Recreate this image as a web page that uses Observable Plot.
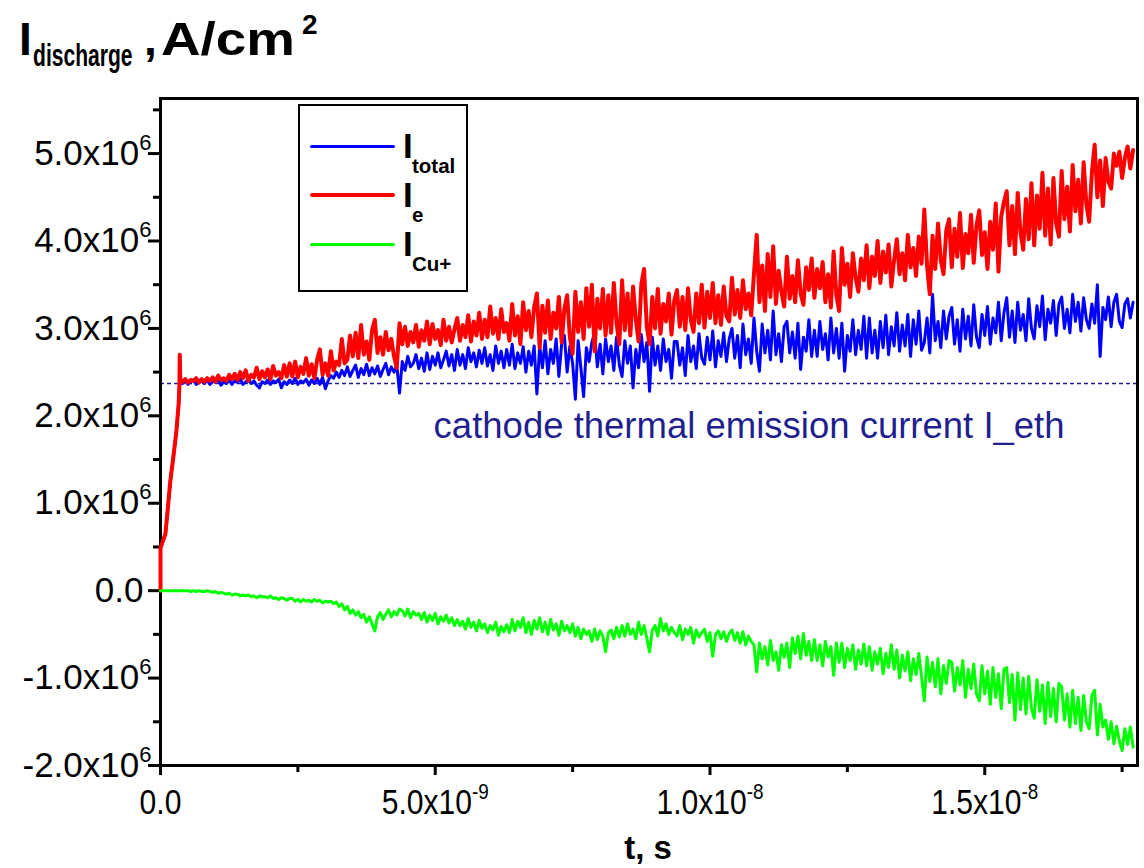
<!DOCTYPE html>
<html><head><meta charset="utf-8">
<script src="https://cdn.jsdelivr.net/npm/d3@7"></script>
<script src="https://cdn.jsdelivr.net/npm/@observablehq/plot@0.6"></script>
<style>
body{margin:0;background:#fff;}
#wrap{position:relative;width:1144px;height:868px;overflow:hidden;font-family:"Liberation Sans",Arial,sans-serif;}
.a{position:absolute;line-height:1;white-space:nowrap;font-weight:bold;color:#000;}
.sw{position:absolute;}
#legend{position:absolute;left:298px;top:104px;width:170px;height:188px;box-sizing:border-box;border:2px solid #000;background:#fff;}
</style></head><body><div id="wrap"></div>
<script>
// time in ns (x1e-9 s), currents in units of 1e6 A/cm^2
const tEarly = [0, 0, 0.09, 0.18, 0.24, 0.29, 0.33, 0.345, 0.35, 0.36];
const eEarly = [0, 0.49, 0.65, 1.26, 1.56, 1.83, 2.13, 2.36, 2.70, 2.38];
const totalEarly = [0, 0.49, 0.65, 1.26, 1.56, 1.83, 2.13, 2.36, 2.70, 2.38];
const cuEarly = [0, 0, 0, 0, 0, 0, 0, 0, 0, 0];

const tGrid = [
 0.40,0.45,0.50,0.55,0.60,0.65,0.70,0.75,0.80,0.85,
 0.90,0.95,1.00,1.05,1.10,1.15,1.20,1.25,1.30,1.35,
 1.40,1.45,1.50,1.55,1.60,1.65,1.70,1.75,1.80,1.85,
 1.90,1.95,2.00,2.05,2.10,2.15,2.20,2.25,2.30,2.35,
 2.40,2.45,2.50,2.55,2.60,2.65,2.70,2.75,2.80,2.85,
 2.90,2.95,3.00,3.05,3.10,3.15,3.20,3.25,3.30,3.35,
 3.40,3.45,3.50,3.55,3.60,3.65,3.70,3.75,3.80,3.85,
 3.90,3.95,4.00,4.05,4.10,4.15,4.20,4.25,4.30,4.35,
 4.40,4.45,4.50,4.55,4.60,4.65,4.70,4.75,4.80,4.85,
 4.90,4.95,5.00,5.05,5.10,5.15,5.20,5.25,5.30,5.35,
 5.40,5.45,5.50,5.55,5.60,5.65,5.70,5.75,5.80,5.85,
 5.90,5.95,6.00,6.05,6.10,6.15,6.20,6.25,6.30,6.35,
 6.40,6.45,6.50,6.55,6.60,6.65,6.70,6.75,6.80,6.85,
 6.90,6.95,7.00,7.05,7.10,7.15,7.20,7.25,7.30,7.35,
 7.40,7.45,7.50,7.55,7.60,7.65,7.70,7.75,7.80,7.85,
 7.90,7.95,8.00,8.05,8.10,8.15,8.20,8.25,8.30,8.35,
 8.40,8.45,8.50,8.55,8.60,8.65,8.70,8.75,8.80,8.85,
 8.90,8.95,9.00,9.05,9.10,9.15,9.20,9.25,9.30,9.35,
 9.40,9.45,9.50,9.55,9.60,9.65,9.70,9.75,9.80,9.85,
 9.90,9.95,10.00,10.05,10.10,10.15,10.20,10.25,10.30,10.35,
 10.40,10.45,10.50,10.55,10.60,10.65,10.70,10.75,10.80,10.85,
 10.90,10.95,11.00,11.05,11.10,11.15,11.20,11.25,11.30,11.35,
 11.40,11.45,11.50,11.55,11.60,11.65,11.70,11.75,11.80,11.85,
 11.90,11.95,12.00,12.05,12.10,12.15,12.20,12.25,12.30,12.35,
 12.40,12.45,12.50,12.55,12.60,12.65,12.70,12.75,12.80,12.85,
 12.90,12.95,13.00,13.05,13.10,13.15,13.20,13.25,13.30,13.35,
 13.40,13.45,13.50,13.55,13.60,13.65,13.70,13.75,13.80,13.85,
 13.90,13.95,14.00,14.05,14.10,14.15,14.20,14.25,14.30,14.35,
 14.40,14.45,14.50,14.55,14.60,14.65,14.70,14.75,14.80,14.85,
 14.90,14.95,15.00,15.05,15.10,15.15,15.20,15.25,15.30,15.35,
 15.40,15.45,15.50,15.55,15.60,15.65,15.70,15.75,15.80,15.85,
 15.90,15.95,16.00,16.05,16.10,16.15,16.20,16.25,16.30,16.35,
 16.40,16.45,16.50,16.55,16.60,16.65,16.70,16.75,16.80,16.85,
 16.90,16.95,17.00,17.05,17.10,17.15,17.20,17.25,17.30,17.35,
 17.40,17.45,17.50,17.55,17.60,17.65,17.70];

const iE = [
 2.39,2.42,2.38,2.41,2.40,2.43,2.38,2.42,2.39,2.43,
 2.40,2.44,2.39,2.46,2.41,2.43,2.40,2.47,2.42,2.48,
 2.41,2.50,2.43,2.52,2.40,2.47,2.44,2.55,2.42,2.51,
 2.44,2.53,2.42,2.57,2.46,2.50,2.43,2.58,2.45,2.60,
 2.45,2.62,2.44,2.56,2.48,2.66,2.46,2.59,2.43,2.64,
 2.76,2.47,2.60,2.46,2.74,2.52,2.62,2.58,2.88,2.60,
 2.64,2.92,2.68,2.95,2.66,3.04,2.70,2.85,2.64,2.98,
 3.10,2.72,2.90,2.70,2.96,2.75,2.88,2.68,2.55,3.06,
 2.82,3.02,2.80,2.96,2.84,3.04,2.79,2.98,2.86,3.08,
 2.82,3.05,2.88,2.98,2.81,3.10,2.86,3.02,2.84,2.99,
 3.12,2.86,3.04,2.90,3.15,2.85,3.08,2.92,3.18,2.88,
 3.10,2.90,3.25,2.94,3.12,2.88,3.22,2.96,3.06,2.86,
 3.28,2.92,3.14,2.82,3.30,2.98,3.20,2.90,3.24,3.40,
 2.78,3.26,2.95,3.32,2.88,3.18,3.00,3.36,2.84,3.22,
 3.38,2.90,2.71,3.42,2.96,3.30,2.88,3.46,3.02,3.50,
 2.74,3.34,3.00,3.45,2.92,3.38,2.95,3.52,3.06,2.82,
 3.55,2.98,3.40,2.92,3.48,3.10,2.85,3.50,3.68,3.02,
 2.82,3.36,3.00,3.45,2.94,3.28,3.08,3.40,2.93,3.32,
 3.44,3.02,3.36,2.98,3.46,3.10,2.96,3.40,3.06,3.50,
 3.01,3.42,3.12,3.52,3.06,3.38,3.04,3.48,3.14,3.08,
 3.58,3.16,3.44,3.12,3.55,3.22,3.40,3.15,3.62,4.07,
 3.30,3.72,3.20,3.85,3.36,3.94,3.28,3.66,3.42,3.25,
 3.82,3.34,3.60,3.30,3.78,3.40,3.27,3.70,3.44,3.80,
 3.35,3.68,3.46,3.76,3.30,3.62,3.24,3.88,3.38,3.20,
 3.92,3.50,3.74,3.36,3.86,3.58,3.42,3.80,3.55,3.95,
 3.46,3.82,3.60,4.00,3.52,3.88,3.64,3.96,3.48,3.78,
 4.02,3.62,3.86,3.55,4.07,3.70,3.92,3.60,4.05,3.74,
 4.36,3.72,3.39,4.06,3.68,4.20,3.78,3.62,4.12,4.25,
 3.70,4.14,3.82,4.32,3.69,4.08,3.86,4.30,3.75,4.18,
 4.35,3.84,4.10,3.68,4.22,3.90,4.43,3.65,4.28,4.45,
 4.57,3.95,4.40,3.85,4.55,4.10,3.90,4.48,4.02,4.66,
 3.95,4.52,4.14,4.78,4.06,4.60,3.96,4.72,4.20,4.05,
 4.80,4.25,4.62,4.11,4.87,4.34,4.70,4.20,4.90,4.42,
 4.22,4.78,5.10,4.50,4.92,4.40,4.95,4.68,4.60,5.00,
 4.86,5.02,4.72,4.95,5.08,4.83,5.04];

const iTotal = [
 2.37,2.40,2.36,2.39,2.41,2.36,2.38,2.40,2.37,2.41,
 2.36,2.40,2.38,2.42,2.35,2.39,2.37,2.41,2.36,2.40,
 2.38,2.42,2.36,2.39,2.41,2.37,2.40,2.35,2.32,2.39,
 2.37,2.41,2.36,2.40,2.38,2.42,2.32,2.39,2.36,2.41,
 2.37,2.43,2.36,2.40,2.38,2.42,2.35,2.41,2.37,2.43,
 2.36,2.44,2.31,2.40,2.46,2.43,2.50,2.44,2.52,2.46,
 2.56,2.45,2.52,2.58,2.44,2.54,2.47,2.59,2.46,2.55,
 2.48,2.57,2.45,2.53,2.60,2.47,2.56,2.50,2.58,2.26,
 2.62,2.52,2.68,2.56,2.60,2.70,2.54,2.66,2.51,2.72,
 2.53,2.68,2.58,2.72,2.55,2.64,2.74,2.57,2.70,2.52,
 2.76,2.58,2.70,2.54,2.78,2.62,2.72,2.56,2.75,2.60,
 2.78,2.57,2.70,2.52,2.80,2.60,2.74,2.55,2.76,2.58,
 2.82,2.54,2.72,2.60,2.79,2.50,2.74,2.58,2.80,2.25,
 2.80,2.55,2.86,2.48,2.76,2.60,2.88,2.45,2.82,2.92,
 2.50,2.80,2.60,2.19,2.86,2.55,2.22,2.78,2.62,2.84,
 2.95,2.56,2.82,2.48,2.88,2.62,2.80,2.52,2.90,2.58,
 2.45,2.86,2.60,2.80,2.32,2.76,2.55,2.93,2.62,2.84,
 2.28,2.90,2.58,2.80,2.52,2.88,2.62,2.76,2.43,2.85,
 2.85,2.58,2.78,2.46,2.92,2.62,2.80,2.54,2.94,2.66,
 2.59,2.90,2.64,2.97,2.56,2.86,2.68,2.95,2.62,2.88,
 3.00,2.66,2.92,2.55,3.05,2.70,2.88,2.60,3.12,2.74,
 2.51,3.05,2.72,2.98,2.64,3.20,2.70,2.94,2.62,3.02,
 3.08,2.72,2.96,2.66,3.06,2.53,2.90,2.74,3.10,2.68,
 2.98,2.68,3.08,2.76,2.94,2.64,3.12,2.72,3.00,2.66,
 3.06,2.51,2.92,2.74,3.10,2.70,2.98,2.76,3.14,2.66,
 3.12,2.72,2.98,2.66,3.08,2.78,3.15,2.70,3.02,2.80,
 3.18,2.74,3.04,2.80,3.16,2.68,3.10,2.82,3.20,2.75,
 2.84,3.12,2.72,3.39,2.86,3.08,2.78,3.20,2.88,3.14,
 3.24,2.82,3.10,2.74,3.22,2.88,3.14,2.80,3.27,2.90,
 2.78,3.16,2.92,3.25,2.82,3.12,2.95,3.30,2.86,3.18,
 3.35,2.90,3.20,2.84,3.30,2.98,3.16,2.86,3.34,3.00,
 2.88,3.26,3.02,3.37,2.87,3.22,3.06,3.32,2.92,3.28,
 3.36,3.00,3.22,2.95,3.39,3.08,3.30,2.97,3.35,3.10,
 3.00,3.28,3.06,3.50,2.68,3.24,3.10,3.36,3.02,3.30,
 3.39,3.08,3.01,3.28,3.34,3.12,3.30];

const iCu = [
 0.00,0.00,0.00,-0.01,0.00,-0.01,0.00,-0.01,-0.01,0.00,
 -0.01,-0.02,-0.01,-0.03,-0.02,-0.03,-0.04,-0.03,-0.05,-0.04,
 -0.04,-0.06,-0.05,-0.06,-0.05,-0.07,-0.06,-0.08,-0.06,-0.07,
 -0.07,-0.08,-0.06,-0.09,-0.08,-0.10,-0.08,-0.09,-0.11,-0.09,
 -0.09,-0.12,-0.10,-0.13,-0.10,-0.12,-0.11,-0.13,-0.10,-0.12,
 -0.11,-0.14,-0.12,-0.13,-0.12,-0.15,-0.13,-0.18,-0.15,-0.22,
 -0.18,-0.26,-0.22,-0.28,-0.24,-0.31,-0.27,-0.36,-0.30,-0.38,
 -0.46,-0.30,-0.25,-0.33,-0.27,-0.22,-0.30,-0.24,-0.28,-0.21,
 -0.23,-0.29,-0.21,-0.31,-0.24,-0.28,-0.26,-0.33,-0.25,-0.36,
 -0.28,-0.34,-0.26,-0.38,-0.30,-0.35,-0.28,-0.37,-0.31,-0.40,
 -0.33,-0.40,-0.35,-0.44,-0.32,-0.42,-0.36,-0.46,-0.34,-0.43,
 -0.38,-0.48,-0.40,-0.45,-0.36,-0.51,-0.41,-0.47,-0.39,-0.48,
 -0.33,-0.46,-0.35,-0.42,-0.31,-0.48,-0.36,-0.50,-0.34,-0.44,
 -0.31,-0.47,-0.36,-0.50,-0.33,-0.45,-0.38,-0.51,-0.35,-0.46,
 -0.40,-0.48,-0.38,-0.52,-0.42,-0.55,-0.44,-0.50,-0.46,-0.58,
 -0.44,-0.56,-0.46,-0.52,-0.70,-0.48,-0.45,-0.55,-0.42,-0.53,
 -0.40,-0.52,-0.38,-0.50,-0.44,-0.55,-0.36,-0.50,-0.40,-0.54,
 -0.70,-0.45,-0.40,-0.52,-0.32,-0.46,-0.38,-0.50,-0.42,-0.48,
 -0.52,-0.40,-0.56,-0.44,-0.50,-0.42,-0.60,-0.45,-0.53,-0.48,
 -0.44,-0.58,-0.48,-0.75,-0.50,-0.46,-0.55,-0.47,-0.58,-0.49,
 -0.45,-0.57,-0.48,-0.60,-0.47,-0.62,-0.52,-0.58,-0.62,-0.93,
 -0.60,-0.78,-0.64,-0.85,-0.57,-0.80,-0.70,-0.91,-0.62,-0.76,
 -0.60,-0.88,-0.54,-0.72,-0.52,-0.78,-0.49,-0.74,-0.58,-0.80,
 -0.56,-0.80,-0.62,-0.86,-0.58,-0.76,-0.64,-0.97,-0.60,-0.82,
 -0.60,-0.88,-0.66,-0.80,-0.62,-0.90,-0.68,-0.84,-0.61,-0.86,
 -0.64,-0.91,-0.70,-0.84,-0.66,-0.95,-0.72,-0.88,-0.62,-0.90,
 -0.68,-1.00,-0.74,-0.92,-0.70,-1.03,-0.78,-0.96,-0.72,-0.98,
 -1.26,-0.76,-1.04,-0.82,-1.10,-0.78,-1.18,-0.86,-1.06,-0.80,
 -0.82,-1.15,-0.88,-1.08,-0.80,-1.22,-0.90,-1.12,-0.84,-1.18,
 -1.26,-0.86,-1.18,-0.92,-1.30,-0.88,-1.22,-0.95,-1.35,-0.90,
 -0.88,-1.28,-0.96,-1.48,-0.94,-1.36,-1.00,-1.41,-0.98,-1.34,
 -1.46,-1.02,-1.38,-1.08,-1.52,-1.05,-1.44,-1.12,-1.50,-1.06,
 -1.10,-1.48,-1.18,-1.56,-1.14,-1.52,-1.22,-1.60,-1.20,-1.50,
 -1.58,-1.20,-1.14,-1.65,-1.30,-1.56,-1.48,-1.70,-1.50,-1.75,
 -1.55,-1.72,-1.83,-1.58,-1.76,-1.56,-1.79];

const Ieth = [2.37];
const annotation = [{t: 4.97, v: 2.37, label: "cathode thermal emission current I_eth"}];

const yMajor = [-2, -1, 0, 1, 2, 3, 4, 5];
const yTickLabels = ["-2.0x10^6", "-1.0x10^6", "0.0", "1.0x10^6", "2.0x10^6", "3.0x10^6", "4.0x10^6", "5.0x10^6"];
const yMinor = [-1.5, -0.5, 0.5, 1.5, 2.5, 3.5, 4.5, 5.5];
const xMajor = [0, 5, 10, 15];
const xTickLabels = ["0.0", "5.0x10^-9", "1.0x10^-8", "1.5x10^-8"];
const xMinor = [2.5, 7.5, 12.5, 17.5];

const seriesSubs = ["total", "e", "Cu+"];
const seriesColors = ["#0000ff", "#ff0000", "#00ff00"];

const rows = (ts, vs) => ts.map((t, i) => ({t, v: vs[i]}));
const blueRows = rows(tEarly.concat(tGrid), totalEarly.concat(iTotal));
const redRows = rows(tEarly.concat(tGrid), eEarly.concat(iE));
const greenRows = rows(tEarly.concat(tGrid), cuEarly.concat(iCu));

const navy = "#1f1f8f";
const plot = Plot.plot({
  width: 1144, height: 868,
  marginLeft: 160, marginRight: 7, marginTop: 98, marginBottom: 103,
  x: {domain: [0, 17.78]},
  y: {domain: [-2, 5.63]},
  style: {fontFamily: "'Liberation Sans', Arial, sans-serif", background: "transparent", color: "#000"},
  marks: [
    Plot.ruleY(Ieth, {stroke: navy, strokeWidth: 1.5, strokeDasharray: "4,3"}),
    Plot.axisY(yMinor, {tickSize: 7, strokeWidth: 3, tickFormat: () => "", label: null}),
    Plot.axisY(yMajor, {tickSize: 12, tickPadding: 5, strokeWidth: 3, fontSize: 35, tickFormat: (d) => yTickLabels[yMajor.indexOf(d)], label: null}),
    Plot.axisX(xMinor, {tickSize: 7, strokeWidth: 3, tickFormat: () => "", label: null}),
    Plot.axisX(xMajor, {tickSize: 10, tickPadding: 14, strokeWidth: 3, fontSize: 35, tickFormat: (d) => xTickLabels[xMajor.indexOf(d)], label: null}),
    Plot.frame({stroke: "#000", strokeWidth: 3}),
    Plot.text(annotation, {x: "t", y: "v", text: "label", textAnchor: "start", dy: 43, fontSize: 36.5, fill: navy}),
    Plot.line(blueRows, {x: "t", y: "v", stroke: seriesColors[0], strokeWidth: 3}),
    Plot.line(redRows, {x: "t", y: "v", stroke: seriesColors[1], strokeWidth: 4}),
    Plot.line(greenRows, {x: "t", y: "v", stroke: seriesColors[2], strokeWidth: 3})
  ]
});

const wrap = document.getElementById("wrap");
wrap.appendChild(plot);

const svgNS = "http://www.w3.org/2000/svg";
function addTransform(el, extra) {
  const t = el.getAttribute("transform");
  if (t) el.setAttribute("transform", t + " " + extra);
  else {
    const x = +el.getAttribute("x") || 0, y = +el.getAttribute("y") || 0;
    el.removeAttribute("x"); el.removeAttribute("y");
    el.setAttribute("transform", `translate(${x},${y}) ${extra}`);
  }
}
function rich(el, supSize, supDy) {
  const s = el.textContent;
  const m = s.match(/^(.*)\^(.*)$/);
  if (!m) return false;
  el.textContent = "";
  const b = document.createElementNS(svgNS, "tspan"); b.textContent = m[1];
  const p = document.createElementNS(svgNS, "tspan"); p.textContent = m[2];
  p.setAttribute("font-size", supSize); p.setAttribute("dy", supDy);
  el.appendChild(b); el.appendChild(p);
  return true;
}
plot.querySelectorAll('g[aria-label="y-axis tick label"] text').forEach(el => {
  if (rich(el, 22, -15)) addTransform(el, "translate(8,0)");
});
plot.querySelectorAll('g[aria-label="x-axis tick label"] text').forEach(el => {
  rich(el, 22, -15);
  addTransform(el, "scale(0.86,1)");
});

// title, axis label, legend
function addDiv(cls, text, styles) {
  const d = document.createElement("div");
  d.className = cls; d.textContent = text;
  Object.assign(d.style, styles);
  wrap.appendChild(d);
  return d;
}
addDiv("a", "I", {left: "19px", top: "16px", fontSize: "46px"});
addDiv("a", "discharge", {left: "33px", top: "40px", fontSize: "31px", transform: "scaleX(0.68)", transformOrigin: "0 0"});
addDiv("a", ",", {left: "144px", top: "16px", fontSize: "46px"});
addDiv("a", "A/cm", {left: "161px", top: "16px", fontSize: "46px", transform: "scaleX(1.19)", transformOrigin: "0 0"});
addDiv("a", "2", {left: "302px", top: "11px", fontSize: "28px"});
addDiv("a", "t, s", {left: "548px", width: "200px", textAlign: "center", top: "831px", fontSize: "33px"});

const lg = document.createElement("div"); lg.id = "legend"; wrap.appendChild(lg);
const swH = [3, 4.5, 3];
seriesSubs.forEach((s, i) => {
  const yc = 146 + 49 * i;
  addDiv("sw", "", {left: "310px", top: (yc - swH[i] / 2) + "px", width: "85px", height: swH[i] + "px", background: seriesColors[i], borderRadius: "2px"});
  addDiv("a", "I", {left: "403px", top: (128 + 49 * i) + "px", fontSize: "35px"});
  addDiv("a", s, {left: "412px", top: (156 + 49 * i) + "px", fontSize: "20.5px"});
});
</script></body></html>
